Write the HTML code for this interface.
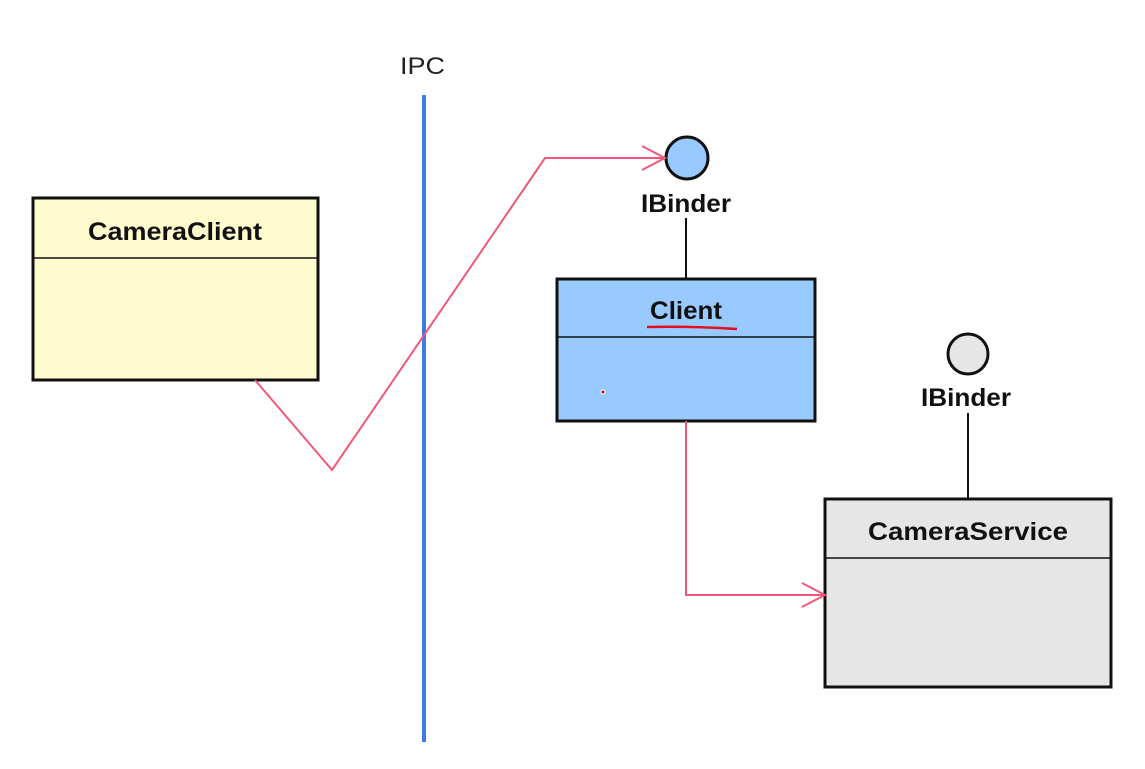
<!DOCTYPE html>
<html><head><meta charset="utf-8"><style>
body{margin:0;background:#fff;}
svg{display:block;font-family:"Liberation Sans",Arial,sans-serif;}
</style></head><body>
<svg width="1145" height="769" viewBox="0 0 1145 769" xmlns="http://www.w3.org/2000/svg">
<rect width="1145" height="769" fill="#fff"/>
<text x="400" y="74" font-size="24" textLength="45" lengthAdjust="spacingAndGlyphs" fill="#222">IPC</text>
<line x1="424" y1="95" x2="424" y2="742" stroke="#3f7ae6" stroke-width="4"/>
<!-- CameraClient -->
<rect x="33" y="198" width="285" height="182" fill="#fefbcf" stroke="#111" stroke-width="3"/>
<line x1="33" y1="258" x2="318" y2="258" stroke="#111" stroke-width="1.5"/>
<text x="88" y="240" font-size="25" font-weight="bold" textLength="174" lengthAdjust="spacingAndGlyphs" fill="#111">CameraClient</text>
<!-- Client -->
<line x1="686" y1="218" x2="686" y2="279" stroke="#111" stroke-width="2"/>
<circle cx="687" cy="158" r="21" fill="#99caff" stroke="#111" stroke-width="3"/>
<text x="641" y="212" font-size="25" font-weight="bold" textLength="90" lengthAdjust="spacingAndGlyphs" fill="#111">IBinder</text>
<rect x="557" y="279" width="258" height="142" fill="#99caff" stroke="#111" stroke-width="3"/>
<line x1="557" y1="337" x2="815" y2="337" stroke="#111" stroke-width="1.5"/>
<text x="650" y="319" font-size="25" font-weight="bold" textLength="72" lengthAdjust="spacingAndGlyphs" fill="#111">Client</text>
<path d="M647 327 Q690 326 737 329" stroke="#e01020" stroke-width="2.5" fill="none"/>
<circle cx="603" cy="392" r="2" fill="#c00" stroke="#fff" stroke-width="1"/>
<!-- CameraService -->
<line x1="968" y1="413" x2="968" y2="499" stroke="#111" stroke-width="2"/>
<circle cx="968" cy="354" r="20" fill="#e6e6e6" stroke="#111" stroke-width="3"/>
<text x="921" y="406" font-size="25" font-weight="bold" textLength="90" lengthAdjust="spacingAndGlyphs" fill="#111">IBinder</text>
<rect x="825" y="499" width="286" height="188" fill="#e6e6e6" stroke="#111" stroke-width="3"/>
<line x1="825" y1="558" x2="1111" y2="558" stroke="#111" stroke-width="1.5"/>
<text x="868" y="540" font-size="25" font-weight="bold" textLength="200" lengthAdjust="spacingAndGlyphs" fill="#111">CameraService</text>
<!-- pink connectors -->
<g stroke="#f0587a" stroke-width="2" fill="none">
<polyline points="255,380 332,470 545,158 665,158"/>
<polyline points="642,146 665,158 642,170"/>
<polyline points="686,421 686,595 825,595"/>
<polyline points="802,583 825,595 802,607"/>
</g>
</svg>
</body></html>
